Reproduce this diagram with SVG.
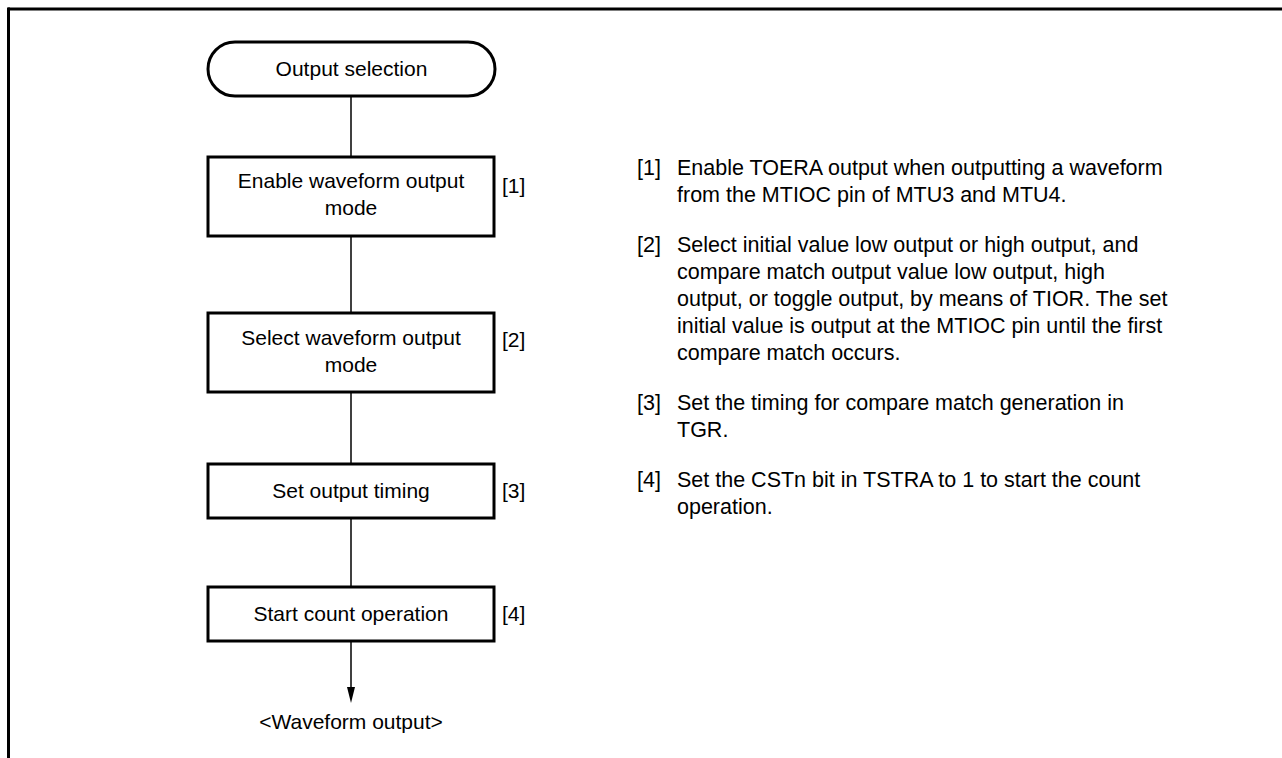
<svg xmlns="http://www.w3.org/2000/svg" width="1282" height="758" viewBox="0 0 1282 758">
<style>
.box{fill:#fff;stroke:#000;stroke-width:3}
.ln{stroke:#000;stroke-width:1.5;fill:none}
.t{font-family:"Liberation Sans",Arial,sans-serif;font-size:21px;fill:#000}
.c{text-anchor:middle}
.r{font-family:"Liberation Sans",Arial,sans-serif;font-size:21.5px;fill:#000}
</style>
<rect width="1282" height="758" fill="#fff"/>
<g id="frame">
<line x1="8" y1="9" x2="1282" y2="9" stroke="#000" stroke-width="3"/>
<line x1="8.5" y1="7.5" x2="8.5" y2="758" stroke="#000" stroke-width="3"/>
</g>
<g id="connectors">
<line class="ln" x1="351" y1="96" x2="351" y2="157"/>
<line class="ln" x1="351" y1="236" x2="351" y2="313"/>
<line class="ln" x1="351" y1="392" x2="351" y2="464"/>
<line class="ln" x1="351" y1="518" x2="351" y2="587"/>
<line x1="351" y1="641" x2="351" y2="688" stroke="#000" stroke-width="1.5"/>
<path d="M347,687 L355,687 L351,703 Z" fill="#000"/>
</g>
<g id="start">
<rect class="box" x="208" y="42" width="287" height="54" rx="27" ry="27"/>
<text class="t c" x="351.5" y="76">Output selection</text>
</g>
<g id="step1">
<rect class="box" x="208" y="157" width="286" height="79"/>
<text class="t c" x="351" y="188">Enable waveform output</text>
<text class="t c" x="351" y="215">mode</text>
<text class="t" x="502" y="193">[1]</text>
</g>
<g id="step2">
<rect class="box" x="208" y="313" width="286" height="79"/>
<text class="t c" x="351" y="345">Select waveform output</text>
<text class="t c" x="351" y="372">mode</text>
<text class="t" x="502" y="347">[2]</text>
</g>
<g id="step3">
<rect class="box" x="208" y="464" width="286" height="54"/>
<text class="t c" x="351" y="498">Set output timing</text>
<text class="t" x="502" y="498">[3]</text>
</g>
<g id="step4">
<rect class="box" x="208" y="587" width="286" height="54"/>
<text class="t c" x="351" y="621">Start count operation</text>
<text class="t" x="502" y="621">[4]</text>
</g>
<g id="end">
<text class="t c" x="351" y="729">&lt;Waveform output&gt;</text>
</g>
<g id="notes">
<text class="r" x="637" y="175">[1]</text>
<text class="r" x="677" y="175">Enable TOERA output when outputting a waveform</text>
<text class="r" x="677" y="202">from the MTIOC pin of MTU3 and MTU4.</text>
<text class="r" x="637" y="252">[2]</text>
<text class="r" x="677" y="252">Select initial value low output or high output, and</text>
<text class="r" x="677" y="279">compare match output value low output, high</text>
<text class="r" x="677" y="306">output, or toggle output, by means of TIOR. The set</text>
<text class="r" x="677" y="333">initial value is output at the MTIOC pin until the first</text>
<text class="r" x="677" y="360">compare match occurs.</text>
<text class="r" x="637" y="410">[3]</text>
<text class="r" x="677" y="410">Set the timing for compare match generation in</text>
<text class="r" x="677" y="437">TGR.</text>
<text class="r" x="637" y="487">[4]</text>
<text class="r" x="677" y="487">Set the CSTn bit in TSTRA to 1 to start the count</text>
<text class="r" x="677" y="514">operation.</text>
</g>
</svg>
